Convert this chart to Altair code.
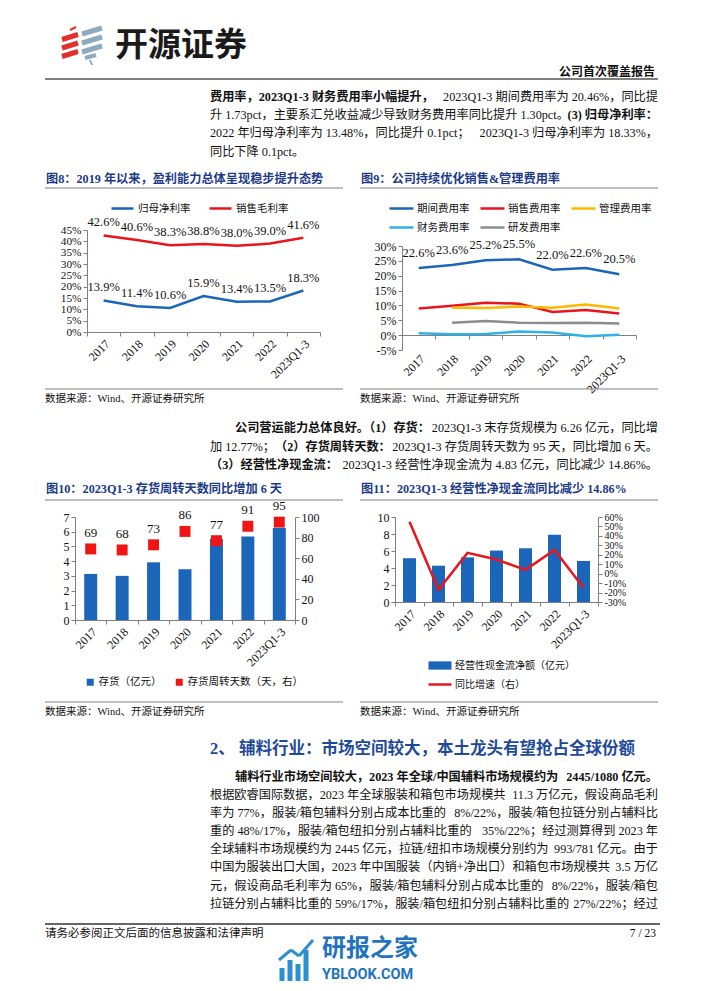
import altair as alt
import pandas as pd

# ---------------- data ----------------
years = ["2017", "2018", "2019", "2020", "2021", "2022", "2023Q1-3"]

# 图8
series8 = ["归母净利率", "销售毛利率"]
net_margin = [13.9, 11.4, 10.6, 15.9, 13.4, 13.5, 18.3]
gross_margin = [42.6, 40.6, 38.3, 38.8, 38.0, 39.0, 41.6]

# 图9
series9 = ["期间费用率", "销售费用率", "管理费用率", "财务费用率", "研发费用率"]
period_rate = [22.6, 23.6, 25.2, 25.5, 22.0, 22.6, 20.46]
selling_rate = [9.0, 9.9, 10.9, 10.6, 7.8, 8.5, 7.3]
admin_rate = [None, 9.2, 9.1, 9.6, 9.2, 10.3, 9.0]
finance_rate = [0.6, 0.3, 0.4, 1.2, 0.9, -0.4, 0.1]
rd_rate = [None, 4.2, 4.8, 4.2, 4.1, 4.2, 3.9]

# 图10
series10 = ["存货（亿元）", "存货周转天数（天，右）"]
inventory = [3.13, 3.0, 3.92, 3.45, 5.5, 5.67, 6.26]
turnover_days = [69, 68, 73, 86, 77, 91, 95]

# 图11
series11 = ["经营性现金流净额（亿元）", "同比增速（右）"]
op_cashflow = [5.15, 4.27, 5.25, 6.05, 6.32, 7.9, 4.83]
cashflow_yoy = [55, -17, 22, 15, 4, 25, -14.86]

# ---------------- page text ----------------
brand = "开源证券"
report_type = "公司首次覆盖报告"
para1 = [
    [("费用率，2023Q1-3 财务费用率小幅提升，", True), ("2023Q1-3 期间费用率为 20.46%，同比提", False)],
    [("升 1.73pct，主要系汇兑收益减少导致财务费用率同比提升 1.30pct。", False), ("(3) 归母净利率：", True)],
    [("2022 年归母净利率为 13.48%，同比提升 0.1pct；", False), ("2023Q1-3 归母净利率为 18.33%，", False)],
    [("同比下降 0.1pct。", False)],
]
para2 = [
    [("公司营运能力总体良好。（1）存货：", True), ("2023Q1-3 末存货规模为 6.26 亿元，同比增", False)],
    [("加 12.77%；", False), ("（2）存货周转天数：", True), ("2023Q1-3 存货周转天数为 95 天，同比增加 6 天。", False)],
    [("（3）经营性净现金流：", True), ("2023Q1-3 经营性净现金流为 4.83 亿元，同比减少 14.86%。", False)],
]
para3 = [
    [("辅料行业市场空间较大，2023 年全球/中国辅料市场规模约为", True), ("2445/1080 亿元。", True)],
    [("根据欧睿国际数据，2023 年全球服装和箱包市场规模共", False), ("11.3 万亿元，假设商品毛利", False)],
    [("率为 77%，服装/箱包辅料分别占成本比重的", False), ("8%/22%，服装/箱包拉链分别占辅料比", False)],
    [("重的 48%/17%，服装/箱包纽扣分别占辅料比重的", False), ("35%/22%；经过测算得到 2023 年", False)],
    [("全球辅料市场规模约为 2445 亿元，拉链/纽扣市场规模分别约为", False), ("993/781 亿元。由于", False)],
    [("中国为服装出口大国，2023 年中国服装（内销+净出口）和箱包市场规模共", False), ("3.5 万亿", False)],
    [("元，假设商品毛利率为 65%，服装/箱包辅料分别占成本比重的", False), ("8%/22%，服装/箱包", False)],
    [("拉链分别占辅料比重的 59%/17%，服装/箱包纽扣分别占辅料比重的", False), ("27%/22%；经过", False)],
]
fig_titles = ["图8：2019 年以来，盈利能力总体呈现稳步提升态势", "图9：公司持续优化销售&管理费用率",
              "图10：2023Q1-3 存货周转天数同比增加 6 天", "图11：2023Q1-3 经营性净现金流同比减少 14.86%"]
source_text = "数据来源：Wind、开源证券研究所"
section_title = "2、 辅料行业：市场空间较大，本土龙头有望抢占全球份额"
footer_text = "请务必参阅正文后面的信息披露和法律声明"
page_no = "7 / 23"
wm_cn = "研报之家"
wm_en = "YBLOOK.COM"

# ---------------- layout helpers ----------------
OFF = 8
W, H = 686, 975


def px(v):
    return v - OFF


def py(v):
    return v - OFF


SERIF = "Liberation Serif, Noto Sans CJK SC"
CJK = "Noto Sans CJK SC"
BLUE = "#1b66b8"
RED = "#e8161c"
GOLD = "#ffb800"
CYAN = "#2cb2e8"
GREY = "#8c8c8c"
NAVY = "#1d3a88"
LINEC = "#808080"
TXT = "#111111"
FS = 12.2

layers = []


def text(s, x, y, size=FS, weight="normal", color=TXT, align="left", font=SERIF):
    layers.append(
        alt.Chart(pd.DataFrame({"t": [s]}))
        .mark_text(align=align, baseline="middle", fontSize=size, fontWeight=weight, color=color, font=font)
        .encode(x=alt.value(px(x)), y=alt.value(py(y)), text="t:N")
    )


def rule(x1, y1, x2, y2, color=LINEC, width=1.0):
    layers.append(
        alt.Chart(pd.DataFrame({"r": [0]}))
        .mark_rule(color=color, strokeWidth=width)
        .encode(x=alt.value(px(x1)), y=alt.value(py(y1)), x2=alt.value(px(x2)), y2=alt.value(py(y2)))
    )


def tw(s, size):
    w = 0.0
    for ch in s:
        if ord(ch) > 0x2E80:
            w += 1.0
        elif ch.isdigit():
            w += 0.5
        elif ch == " ":
            w += 0.25
        elif ch == "%":
            w += 0.83
        elif ch in ".,;:":
            w += 0.25
        elif ch in "()-/+":
            w += 0.33
        elif ch.isupper():
            w += 0.7
        else:
            w += 0.45
    return w * size


def para(lines, ys, x0_first=210, x0=210, x1=658, size=FS):
    for i, (segs, y) in enumerate(zip(lines, ys)):
        start = x0_first if i == 0 else x0
        if len(segs) == 1:
            s, b = segs[0]
            text(s, start, y, size, "bold" if b else "normal")
            continue
        cur = start
        for j, (s, b) in enumerate(segs):
            wgt = "bold" if b else "normal"
            if j == len(segs) - 1:
                text(s, x1, y, size, wgt, align="right")
            else:
                text(s, cur, y, size, wgt)
                cur += tw(s, size)


AX = dict(labelFont="Liberation Serif", labelFontSize=12, labelColor=TXT, domainColor=LINEC,
          tickColor=LINEC, tickSize=4, grid=False, title=None, labelPadding=2, labelOverlap=False)


def xband(a, b):
    return alt.Scale(type="band", domain=years, range=[px(a), px(b)], paddingInner=0, paddingOuter=0)


def ylin(d0, d1, p0, p1):
    return alt.Scale(type="linear", domain=[d0, d1], range=[py(p0), py(p1)], nice=False, zero=False)


def x_axis(ypos, labels=True, ticks=True, domain=True, pad=2):
    d = dict(AX)
    d["labelPadding"] = pad
    return alt.Axis(orient="bottom", offset=py(ypos) - H, labelAngle=315, tickBand="extent",
                    labels=labels, ticks=ticks, domain=domain, **d)


def y_axis(xpos, orient, values, pct=False, size=12):
    off = -px(xpos) if orient == "left" else px(xpos) - W
    d = dict(AX)
    d["labelFontSize"] = size
    if pct:
        return alt.Axis(orient=orient, offset=off, values=values, labelExpr="datum.value + '%'", **d)
    return alt.Axis(orient=orient, offset=off, values=values, format="d", **d)


def legend(x, y, stype="stroke", ssize=484, loff=3, cpad=6, fsize=10.5):
    return alt.Legend(orient="none", legendX=px(x), legendY=py(y), direction="horizontal", title=None,
                      symbolType=stype, symbolSize=ssize, symbolStrokeWidth=2.5, labelFont=SERIF,
                      labelFontSize=fsize, labelColor=TXT, padding=0, labelOffset=loff,
                      columnPadding=cpad)


def bx(scale, axis=None, band=True):
    if band:
        return alt.X("year:N", scale=scale, axis=axis, bandPosition=0.5)
    return alt.X("year:N", scale=scale, axis=axis)


# ---------------- header ----------------
for yy in (37, 45.5, 54):
    rule(62, yy + 2.5, 78, yy - 2.5, "#e0322b", 5)
rule(70, 30, 76, 27, "#e0322b", 2)
for yy in (31, 40, 49):
    rule(82, yy + 3, 102, yy - 3, "#8faabd", 5)
rule(85, 58, 96, 55, "#8faabd", 4)
rule(90, 60, 92, 65, "#8faabd", 2)
text(brand, 115, 46, 33, "bold", "#1a1a1a", font=CJK)
text(report_type, 655, 72, 12, "bold", align="right")
rule(45, 79, 658, 79, "#555555", 1.5)

para(para1, [97, 115, 133, 152])

# figure titles / rules
text(fig_titles[0], 46, 179, 12.2, "bold", NAVY)
text(fig_titles[1], 361, 179, 12.2, "bold", NAVY)
rule(45, 188, 343, 188)
rule(360, 188, 658, 188)

# ---------------- 图8 ----------------
df8 = pd.DataFrame({"year": years * 2,
                    "series": [series8[0]] * 7 + [series8[1]] * 7,
                    "value": net_margin + gross_margin})
df8["label"] = df8["value"].map(lambda v: f"{v:.1f}%")
X8 = xband(87, 320)
Y8 = ylin(0, 45, 332, 230)
layers.append(
    alt.Chart(df8).mark_line(strokeWidth=2.5).encode(
        x=bx(X8, x_axis(332)),
        y=alt.Y("value:Q", scale=Y8, axis=y_axis(87, "left", list(range(0, 50, 5)), pct=True, size=11.3)),
        color=alt.Color("series:N", scale=alt.Scale(domain=series8, range=[BLUE, RED]),
                        legend=legend(110, 196, ssize=484, loff=3, cpad=13)),
    )
)
layers.append(
    alt.Chart(df8).mark_text(dy=-13, fontSize=12.5, font="Liberation Serif", color=TXT).encode(
        x=bx(X8), y=alt.Y("value:Q", scale=Y8, axis=None), text="label:N"
    )
)

# ---------------- 图9 ----------------
vals9 = [period_rate, selling_rate, admin_rate, finance_rate, rd_rate]
rows9 = []
for name, vals in zip(series9, vals9):
    for yr, v in zip(years, vals):
        if v is not None:
            rows9.append({"year": yr, "series": name, "value": v})
df9 = pd.DataFrame(rows9)
df9a = df9[df9["series"].isin(series9[:3])]
df9b = df9[df9["series"].isin(series9[3:])]
df9p = df9[df9["series"] == series9[0]].copy()
df9p["label"] = df9p["value"].map(lambda v: f"{v:.1f}%")
X9 = xband(402, 636)
Y9 = ylin(-5, 30, 350, 246)
layers.append(
    alt.Chart(df9b).mark_line(strokeWidth=2.5).encode(
        x=bx(X9),
        y=alt.Y("value:Q", scale=Y9, axis=None),
        color=alt.Color("series:N", scale=alt.Scale(domain=series9[3:], range=[CYAN, GREY]),
                        legend=legend(388, 214, ssize=576, loff=2, cpad=5)),
    )
)
layers.append(
    alt.Chart(df9a).mark_line(strokeWidth=2.5).encode(
        x=bx(X9, x_axis(335, labels=False)),
        y=alt.Y("value:Q", scale=Y9, axis=y_axis(402, "left", list(range(-5, 35, 5)), pct=True)),
        color=alt.Color("series:N", scale=alt.Scale(domain=series9[:3], range=[BLUE, RED, GOLD]),
                        legend=legend(388, 195, ssize=576, loff=2, cpad=5)),
    )
)
layers.append(
    alt.Chart(df9p).mark_text(dy=-15, fontSize=12.5, font="Liberation Serif", color=TXT).encode(
        x=bx(X9, x_axis(350, ticks=False, domain=False, pad=3)),
        y=alt.Y("value:Q", scale=Y9, axis=None), text="label:N"
    )
)

# sources (top)
rule(45, 389, 343, 389)
rule(360, 389, 658, 389)
text(source_text, 45, 399, 10.5)
text(source_text, 360, 399, 10.5)

para(para2, [428, 447, 465], x0_first=235)

text(fig_titles[2], 46, 489, 12.2, "bold", NAVY)
text(fig_titles[3], 361, 489, 12.2, "bold", NAVY)
rule(45, 500, 343, 500)
rule(360, 500, 658, 500)

# ---------------- 图10 ----------------
df10 = pd.DataFrame({"year": years, "inv": inventory, "days": turnover_days,
                     "s1": series10[0], "s2": series10[1]})
X10 = xband(75, 295)
YL10 = ylin(0, 7, 620, 517)
YR10 = ylin(0, 100, 620, 517)
layers.append(
    alt.Chart(df10).mark_bar(width=13).encode(
        x=bx(X10, x_axis(620), band=False),
        y=alt.Y("inv:Q", scale=YL10, axis=y_axis(75, "left", list(range(0, 8)))),
        color=alt.Color("s1:N", scale=alt.Scale(domain=[series10[0]], range=[BLUE]),
                        legend=legend(85, 677, stype="square", ssize=49, loff=3)),
    )
)
layers.append(
    alt.Chart(df10).mark_point(shape="square", filled=True, size=120, opacity=1).encode(
        x=bx(X10),
        y=alt.Y("days:Q", scale=YR10, axis=y_axis(295, "right", list(range(0, 120, 20)))),
        color=alt.Color("s2:N", scale=alt.Scale(domain=[series10[1]], range=["#f01515"]),
                        legend=legend(174, 677, stype="square", ssize=49, loff=3)),
    )
)
layers.append(
    alt.Chart(df10).mark_text(dy=-16, fontSize=13, font="Liberation Serif", color=TXT).encode(
        x=bx(X10), y=alt.Y("days:Q", scale=YR10, axis=None), text="days:N"
    )
)

# ---------------- 图11 ----------------
df11 = pd.DataFrame({"year": years, "ocf": op_cashflow, "yoy": cashflow_yoy,
                     "s1": series11[0], "s2": series11[1]})
X11 = xband(395, 598)
YL11 = ylin(0, 10, 602, 517)
YR11 = ylin(-30, 60, 602, 517)
layers.append(
    alt.Chart(df11).mark_bar(width=13).encode(
        x=bx(X11, x_axis(602), band=False),
        y=alt.Y("ocf:Q", scale=YL11, axis=y_axis(395, "left", list(range(0, 12, 2)))),
        color=alt.Color("s1:N", scale=alt.Scale(domain=[series11[0]], range=[BLUE]),
                        legend=legend(427, 652.5, stype="M-1,-0.36H1V0.36H-1Z", ssize=529, loff=2, fsize=10)),
    )
)
layers.append(
    alt.Chart(df11).mark_line(strokeWidth=2.5).encode(
        x=bx(X11),
        y=alt.Y("yoy:Q", scale=YR11, axis=y_axis(598, "right", list(range(-30, 70, 10)), pct=True, size=10)),
        color=alt.Color("s2:N", scale=alt.Scale(domain=[series11[1]], range=[RED]),
                        legend=legend(427, 671.5, ssize=529, loff=2, fsize=10)),
    )
)

# sources (bottom)
rule(45, 702, 343, 702)
rule(360, 702, 658, 702)
text(source_text, 45, 712, 10.5)
text(source_text, 360, 712, 10.5)

# ---------------- section ----------------
text(section_title, 210, 749, 16.5, "bold", "#1f4a9a")
para(para3, [777, 795, 813, 831, 849, 867, 886, 904], x0_first=235)

# ---------------- footer ----------------
rule(45, 924, 660, 924, "#666666", 2)
text(footer_text, 45, 934, 11.5)
text(page_no, 656, 934, 11.5, align="right")

# watermark
for xx, top in ((282, 968), (290, 960), (298, 964), (306, 950)):
    rule(xx, top, xx, 981, "#2b8fd0", 5)
rule(279, 960, 291, 950, "#2b8fd0", 3)
rule(291, 950, 299, 956, "#2b8fd0", 3)
rule(299, 956, 313, 940, "#2b8fd0", 3)
text(wm_cn, 322, 949, 24, "bold", "#1f73c0", font=CJK)
text(wm_en, 322, 974.5, 14.5, "bold", "#1f73c0", font="Roboto")

chart = (
    alt.layer(*layers)
    .resolve_scale(x="independent", y="independent", color="independent")
    .resolve_axis(x="independent", y="independent")
    .resolve_legend(color="independent")
    .properties(width=W, height=H, padding=0, autosize=alt.AutoSizeParams(type="none"),
                background="white")
    .configure_view(stroke=None)
)

chart.save("out.html", embed_options={"renderer": "svg", "actions": False})
